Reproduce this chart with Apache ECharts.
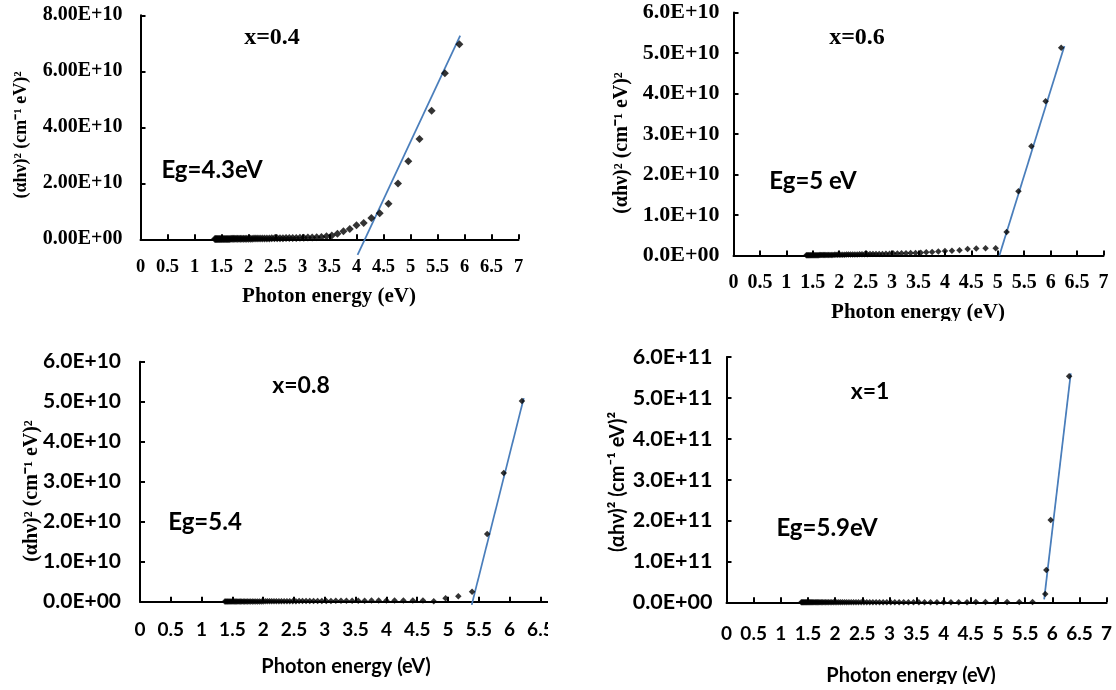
<!DOCTYPE html>
<html>
<head>
<meta charset="utf-8">
<script src="https://cdn.jsdelivr.net/npm/echarts@6/dist/echarts.min.js"></script>
<style>html,body{margin:0;padding:0;background:#fff}#c{width:1116px;height:690px}</style>
</head>
<body>
<div id="c"></div>
<script>
// Photon energy (eV) of each measured point
const energy = [1.378,1.393,1.409,1.425,1.442,1.459,1.476,1.494,1.512,1.531,
 1.550,1.570,1.590,1.610,1.632,1.653,1.676,1.699,1.722,1.746,
 1.771,1.797,1.824,1.851,1.879,1.908,1.938,1.968,2.000,2.033,
 2.067,2.102,2.138,2.175,2.214,2.255,2.296,2.340,2.385,2.431,
 2.480,2.531,2.583,2.638,2.696,2.756,2.818,2.884,2.952,3.024,
 3.100,3.179,3.263,3.351,3.444,3.543,3.647,3.758,3.875,4.000,
 4.133,4.276,4.429,4.593,4.769,4.960,5.167,5.391,5.636,5.905,
 6.200];
// (αhν)² in units of 1E+10 (x=0.4, 0.6, 0.8) and 1E+11 (x=1)
const absorb04 = [0.010,0.010,0.011,0.011,0.011,0.012,0.012,0.012,0.013,0.013,
 0.013,0.014,0.014,0.015,0.015,0.015,0.016,0.016,0.017,0.017,
 0.018,0.018,0.019,0.019,0.020,0.021,0.021,0.022,0.023,0.024,
 0.024,0.025,0.026,0.027,0.028,0.029,0.030,0.031,0.033,0.034,
 0.035,0.037,0.038,0.040,0.042,0.044,0.047,0.049,0.052,0.056,
 0.060,0.066,0.074,0.086,0.105,0.14,0.20,0.29,0.37,0.50,
 0.58,0.76,0.93,1.27,1.99,2.79,3.58,4.59,5.93,6.97];
const absorb06 = [0.004,0.004,0.005,0.005,0.005,0.006,0.006,0.006,0.007,0.007,
 0.008,0.008,0.009,0.009,0.010,0.010,0.011,0.011,0.012,0.012,
 0.013,0.013,0.014,0.015,0.015,0.016,0.017,0.018,0.018,0.019,
 0.020,0.021,0.022,0.023,0.024,0.025,0.026,0.027,0.028,0.030,
 0.031,0.032,0.034,0.035,0.037,0.039,0.040,0.042,0.045,0.047,
 0.050,0.053,0.056,0.060,0.064,0.069,0.078,0.088,0.10,0.11,
 0.12,0.13,0.16,0.17,0.18,0.18,0.58,1.585,2.70,3.81,
 5.13];
const absorb08 = [0.002,0.002,0.002,0.002,0.003,0.003,0.003,0.003,0.003,0.003,
 0.004,0.004,0.004,0.004,0.004,0.005,0.005,0.005,0.005,0.006,
 0.006,0.006,0.006,0.007,0.007,0.007,0.008,0.008,0.008,0.009,
 0.009,0.010,0.010,0.010,0.011,0.011,0.012,0.012,0.013,0.013,
 0.014,0.014,0.015,0.015,0.016,0.017,0.017,0.018,0.019,0.020,
 0.020,0.021,0.022,0.023,0.024,0.025,0.026,0.027,0.028,0.030,
 0.031,0.033,0.030,0.028,0.012,0.085,0.135,0.25,1.69,3.22,
 5.02];
const absorb10Tail = [0.001,0.001,0.001,0.001,0.001,0.001,0.001,0.001,0.001,0.001,
 0.001,0.001,0.001,0.001,0.001,0.001,0.001,0.001,0.001,0.001,
 0.001,0.001,0.001,0.001,0.001,0.001,0.001,0.002,0.002,0.002,
 0.002,0.002,0.002,0.002,0.002,0.002,0.002,0.002,0.002,0.002,
 0.002,0.002,0.002,0.002,0.002,0.003,0.003,0.003,0.003,0.003,
 0.003,0.003,0.003,0.003,0.003,0.003,0.004,0.004,0.004,0.004,
 0.004,0.004,0.004,0.005,0.005,0.005,0.005,0.005,0.006];
const energy10Edge = [5.87,5.89,5.97,6.31];
const absorb10Edge = [0.20,0.79,2.01,5.53];
// Linear extrapolation lines (Tauc fits)
const fit04X = [4.02,5.92], fit04Y = [-0.56,7.27];
const fit06X = [5.03,6.26], fit06Y = [0.0,5.17];
const fit08X = [5.385,6.23], fit08Y = [-0.08,5.09];
const fit10X = [5.85,6.34], fit10Y = [0.07,5.60];
const panelTitles = ['x=0.4','x=0.6','x=0.8','x=1'];
const gapLabels = ['Eg=4.3eV','Eg=5 eV','Eg=5.4','Eg=5.9eV'];
const xName = 'Photon energy (eV)';
const yName = '(\u03b1h\u03bd)\u00b2 (cm\u207b\u00b9 eV)\u00b2';

const SERIF = 'Liberation Serif';
const SANS = 'Lato';
const pairs = (xs, ys) => xs.map((x, i) => [x, ys[i]]);

function fmt(dec, exp) {
  return v => v === 0 ? (0).toFixed(dec) + 'E+00' : v.toFixed(dec) + 'E+' + exp;
}

const panels = [
  {grid:{left:140.5,top:15.3,width:378,height:224}, ymax:8, yint:2, fmt:fmt(2,10), font:SERIF,
   ySize:20, xSize:18.5, yMargin:18, xMargin:18, data:pairs(energy.slice(0,70), absorb04),
   fit:pairs(fit04X, fit04Y), sym:8},
  {grid:{left:733.5,top:12.5,width:370,height:243}, ymax:6, yint:1, fmt:fmt(1,10), font:SERIF,
   ySize:22, xSize:20, yMargin:14, xMargin:17, data:pairs(energy, absorb06),
   fit:pairs(fit06X, fit06Y), sym:6.5},
  {grid:{left:140,top:361.7,width:431.2,height:240}, ymax:6, yint:1, fmt:fmt(1,10), font:SANS,
   ySize:21, xSize:19, yMargin:19, xMargin:19, data:pairs(energy, absorb08),
   fit:pairs(fit08X, fit08Y), sym:6.5},
  {grid:{left:726.5,top:357,width:380.1,height:245.3}, ymax:6, yint:1, fmt:fmt(1,11), font:SANS,
   ySize:21.5, xSize:19, yMargin:14, xMargin:22,
   data:pairs(energy.slice(0,69), absorb10Tail).concat(pairs(energy10Edge, absorb10Edge)),
   fit:pairs(fit10X, fit10Y), sym:6.5}
];

const axisLine = {show:true, onZero:false, lineStyle:{color:'#000', width:2}};
const axisTick = {show:true, inside:true, length:5, lineStyle:{color:'#000', width:2}};

function txt(x, y, text, family, size, rot) {
  const el = {type:'text', x:x, y:y, style:{text:text, fontFamily:family, fontWeight:'bold', fontSize:size,
    fill:'#000', align:'center', verticalAlign:'middle'}};
  if (rot) el.rotation = rot;
  return el;
}

const option = {
  backgroundColor:'#fff',
  animation:false,
  grid: panels.map(p => Object.assign({containLabel:false, outerBoundsMode:'none'}, p.grid)),
  xAxis: panels.map((p, i) => ({
    type:'value', gridIndex:i, min:0, max:7, interval:0.5,
    axisLine, axisTick, splitLine:{show:false},
    axisLabel:{color:'#000', fontFamily:p.font, fontWeight:'bold', fontSize:p.xSize, margin:p.xMargin}
  })),
  yAxis: panels.map((p, i) => ({
    type:'value', gridIndex:i, min:0, max:p.ymax, interval:p.yint,
    axisLine, axisTick, splitLine:{show:false},
    axisLabel:{color:'#000', fontFamily:p.font, fontWeight:'bold', fontSize:p.ySize, margin:p.yMargin, formatter:p.fmt}
  })),
  series: panels.flatMap((p, i) => [
    {type:'scatter', xAxisIndex:i, yAxisIndex:i, data:p.data, symbol:'diamond', symbolSize:p.sym,
     itemStyle:{color:'#000'}, clip:false, z:3},
    {type:'line', xAxisIndex:i, yAxisIndex:i, data:p.fit, symbol:'none', clip:false,
     lineStyle:{color:'#4a7ebb', width:1.75}, z:2}
  ]),
  graphic: [
    txt(272, 38, panelTitles[0], SERIF, 24),
    txt(857, 38, panelTitles[1], SERIF, 24),
    txt(301, 386, panelTitles[2], SANS, 23),
    txt(870, 392, panelTitles[3], SANS, 23),
    txt(212, 170, gapLabels[0], SANS, 24),
    txt(813, 181, gapLabels[1], SANS, 24),
    txt(205, 522, gapLabels[2], SANS, 24),
    txt(827, 528, gapLabels[3], SANS, 24),
    txt(329, 297, xName, SERIF, 21),
    txt(918, 313, xName, SERIF, 21),
    txt(346, 667, xName, SANS, 20),
    txt(911, 676, xName, SANS, 20),
    txt(21, 135, yName, SERIF, 18, Math.PI/2),
    txt(622, 143, yName, SERIF, 20, Math.PI/2),
    txt(32, 491, yName, SERIF, 20, Math.PI/2),
    txt(618, 482, yName, SANS, 20, Math.PI/2),
    // crop edges of the original composite image
    {type:'rect', z:100, shape:{x:548, y:340, width:50, height:350}, style:{fill:'#fff'}},
    {type:'rect', z:100, shape:{x:560, y:321, width:556, height:19}, style:{fill:'#fff'}},
    {type:'rect', z:100, shape:{x:560, y:684, width:556, height:6}, style:{fill:'#fff'}}
  ]
};

const chart = echarts.init(document.getElementById('c'), null, {renderer:'canvas'});
chart.setOption(option);
</script>
</body>
</html>
